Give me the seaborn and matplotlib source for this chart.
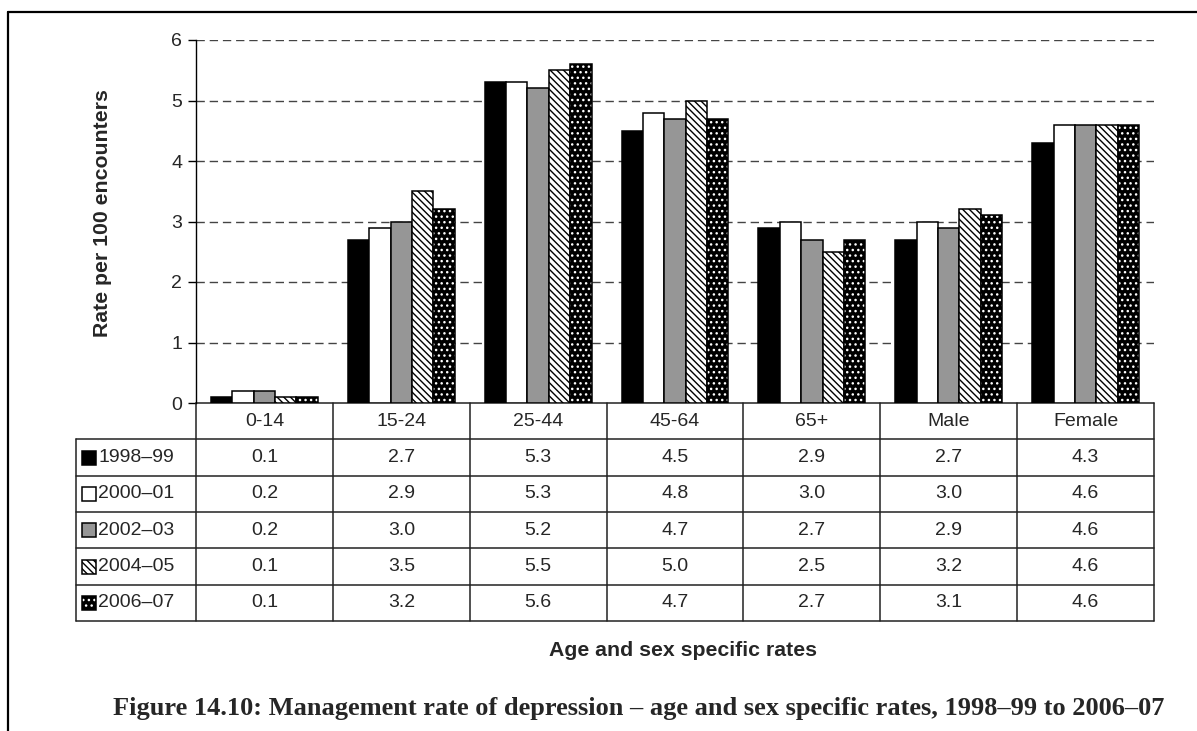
import numpy as np
import pandas as pd
import matplotlib
matplotlib.use("Agg")
import matplotlib.pyplot as plt
from matplotlib.patches import Rectangle
from matplotlib.lines import Line2D
import seaborn as sns

# ---- data -------------------------------------------------------------
groups = ["0-14", "15-24", "25-44", "45-64", "65+", "Male", "Female"]
periods = ["1998\u201399", "2000\u201301", "2002\u201303", "2004\u201305", "2006\u201307"]
rate_1998 = [0.1, 2.7, 5.3, 4.5, 2.9, 2.7, 4.3]
rate_2000 = [0.2, 2.9, 5.3, 4.8, 3.0, 3.0, 4.6]
rate_2002 = [0.2, 3.0, 5.2, 4.7, 2.7, 2.9, 4.6]
rate_2004 = [0.1, 3.5, 5.5, 5.0, 2.5, 3.2, 4.6]
rate_2006 = [0.1, 3.2, 5.6, 4.7, 2.7, 3.1, 4.6]
yticks = [0, 1, 2, 3, 4, 5, 6]

series = [rate_1998, rate_2000, rate_2002, rate_2004, rate_2006]
df = pd.DataFrame(
    [(g, p, v) for p, vals in zip(periods, series) for g, v in zip(groups, vals)],
    columns=["group", "period", "rate"],
)

# ---- styling ----------------------------------------------------------
sns.set_theme(style="white")
plt.rcParams["font.family"] = ["Liberation Sans", "DejaVu Sans"]
plt.rcParams["hatch.linewidth"] = 1.0

TXT = 14
LBL = 15.3
HATCH_DIAG = "\\" * 5
HATCH_DOTS = "..."

faces = ["black", "white", "#969696", "white", "black"]
W, H = 1197, 731
fig = plt.figure(figsize=(W / 100, H / 100), dpi=100)
fig.patch.set_facecolor("white")

ax_l, ax_r, ax_t, ax_b = 196, 1154, 40, 403
ax = fig.add_axes([ax_l / W, 1 - ax_b / H, (ax_r - ax_l) / W, (ax_b - ax_t) / H])

sns.barplot(
    data=df, x="group", y="rate", hue="period", order=groups, hue_order=periods,
    palette=faces, edgecolor="black", linewidth=1.1, width=0.78, gap=0,
    saturation=1, legend=False, ax=ax, zorder=3,
)

# patterned series
for bar in ax.containers[3]:
    bar.set_hatch(HATCH_DIAG)
for bar in ax.containers[4]:
    bar.set_edgecolor("white")
    bar.set_linewidth(0)
    bar.set_hatch(HATCH_DOTS)
    ax.add_patch(Rectangle((bar.get_x(), bar.get_y()), bar.get_width(), bar.get_height(),
                           fill=False, edgecolor="black", linewidth=1.1, zorder=4))

ax.set_ylim(0, 6)
ax.set_xlim(-0.5, len(groups) - 0.5)
ax.set_yticks(yticks)
ax.set_yticklabels([str(t) for t in yticks], fontsize=TXT)
ax.tick_params(axis="y", length=6, width=1, color="black", pad=4, left=True)
ax.set_xticks([])
ax.set_xlabel("")
ax.set_ylabel("")
for y in yticks[1:]:
    ax.axhline(y, color="#444444", lw=1.0, ls=(0, (6, 3.5)), zorder=1)
for s in ["top", "right", "bottom"]:
    ax.spines[s].set_visible(False)
ax.spines["left"].set_color("black")
ax.spines["left"].set_linewidth(1)

# ---- data table under the chart ---------------------------------------
to_ax_x = lambda px: (px - ax_l) / (ax_r - ax_l)
to_ax_y = lambda py: (ax_b - py) / (ax_b - ax_t)
tab_left, tab_bottom = 76, 621
n_rows = len(periods) + 1
row_h = (tab_bottom - ax_b) / n_rows
col_w = (ax_r - ax_l) / len(groups)
lkw = dict(transform=ax.transAxes, color="#222222", lw=1.1, clip_on=False)

# horizontal rules
ax.add_line(Line2D([0, 1], [0, 0], **lkw))
for r in range(1, n_rows + 1):
    yy = to_ax_y(ax_b + r * row_h)
    ax.add_line(Line2D([to_ax_x(tab_left), 1], [yy, yy], **lkw))
# vertical rules
ax.add_line(Line2D([to_ax_x(tab_left)] * 2, [to_ax_y(ax_b + row_h), to_ax_y(tab_bottom)], **lkw))
for c in range(len(groups) + 1):
    xx = to_ax_x(ax_l + c * col_w)
    ax.add_line(Line2D([xx, xx], [0, to_ax_y(tab_bottom)], **lkw))

# header row
for c, g in enumerate(groups):
    ax.text(to_ax_x(ax_l + (c + 0.5) * col_w), to_ax_y(ax_b + 0.5 * row_h), g,
            transform=ax.transAxes, ha="center", va="center", fontsize=TXT)

# body rows with legend swatches
for r, (p, vals) in enumerate(zip(periods, series), start=1):
    yc = to_ax_y(ax_b + (r + 0.5) * row_h)
    sw = 14
    x0 = to_ax_x(82)
    y0 = to_ax_y(ax_b + (r + 0.5) * row_h + sw / 2)
    kw = dict(transform=ax.transAxes, clip_on=False, zorder=5)
    wd = sw / (ax_r - ax_l)
    ht = sw / (ax_b - ax_t)
    if r == 4:
        ax.add_patch(Rectangle((x0, y0), wd, ht, facecolor="white", edgecolor="black",
                               lw=1.1, hatch=HATCH_DIAG, **kw))
    elif r == 5:
        ax.add_patch(Rectangle((x0, y0), wd, ht, facecolor="black", edgecolor="white",
                               lw=0, hatch=HATCH_DOTS, **kw))
        ax.add_patch(Rectangle((x0, y0), wd, ht, fill=False, edgecolor="black", lw=1.1, **kw))
    else:
        ax.add_patch(Rectangle((x0, y0), wd, ht, facecolor=faces[r - 1], edgecolor="black",
                               lw=1.1, **kw))
    ax.text(to_ax_x(98), yc, p, transform=ax.transAxes, ha="left", va="center", fontsize=TXT)
    for c, v in enumerate(vals):
        ax.text(to_ax_x(ax_l + (c + 0.5) * col_w), yc, f"{v:.1f}",
                transform=ax.transAxes, ha="center", va="center", fontsize=TXT)

# ---- titles -------------------------------------------------------------
fig.text(102 / W, 1 - 213 / H, "Rate per 100 encounters", rotation=90,
         ha="center", va="center", fontsize=LBL, fontweight="bold")
fig.text(683 / W, 1 - 650 / H, "Age and sex specific rates",
         ha="center", va="center", fontsize=LBL, fontweight="bold")
fig.text(639 / W, 1 - 708 / H,
         "Figure 14.10: Management rate of depression \u2013 age and sex specific rates, 1998\u201399 to 2006\u201307",
         ha="center", va="center", fontsize=19, fontweight="bold",
         family=["Liberation Serif", "DejaVu Serif"])

# outer frame
fig.add_artist(Line2D([8 / W, 1], [1 - 12 / H] * 2, transform=fig.transFigure, color="black", lw=1.6))
fig.add_artist(Line2D([8 / W] * 2, [1 - 12 / H, 0], transform=fig.transFigure, color="black", lw=1.6))

fig.savefig("out.png", dpi=100)
